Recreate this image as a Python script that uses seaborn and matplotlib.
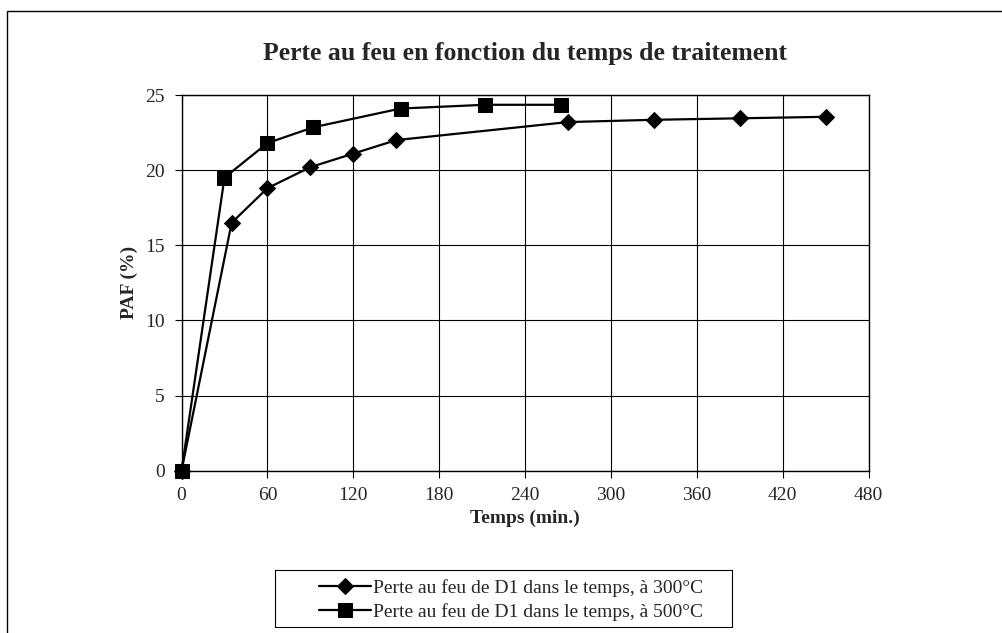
import matplotlib
matplotlib.use("Agg")
import matplotlib.pyplot as plt
import seaborn as sns
import pandas as pd
from matplotlib.patches import Rectangle

# Data
t_300 = [0, 35, 60, 90, 120, 150, 270, 330, 390, 450]
paf_300 = [0, 16.5, 18.8, 20.2, 21.1, 22.0, 23.2, 23.35, 23.45, 23.55]
t_500 = [0, 30, 60, 92, 153, 212, 265]
paf_500 = [0, 19.5, 21.8, 22.85, 24.1, 24.35, 24.35]
label_300 = "Perte au feu de D1 dans le temps, à 300°C"
label_500 = "Perte au feu de D1 dans le temps, à 500°C"
title = "Perte au feu en fonction du temps de traitement"
xlabel = "Temps (min.)"
ylabel = "PAF (%)"
xticks = [0, 60, 120, 180, 240, 300, 360, 420, 480]
yticks = [0, 5, 10, 15, 20, 25]

sns.set_style("white")
plt.rcParams['font.family'] = ['Liberation Serif', 'DejaVu Serif']

fig = plt.figure(figsize=(10.03, 6.33), dpi=100)
ax = fig.add_axes([0.181, 0.2564, 0.685, 0.5935])

df300 = pd.DataFrame({"t": t_300, "paf": paf_300})
df500 = pd.DataFrame({"t": t_500, "paf": paf_500})

sns.lineplot(data=df300, x="t", y="paf", ax=ax, color="black", marker="D",
             markersize=8, linewidth=1.6, label=label_300, sort=False,
             markeredgecolor="black", clip_on=False, zorder=3)
sns.lineplot(data=df500, x="t", y="paf", ax=ax, color="black", marker="s",
             markersize=10.5, linewidth=1.6, label=label_500, sort=False,
             markeredgecolor="black", clip_on=False, zorder=3)

ax.set_xlim(0, 480)
ax.set_ylim(0, 25)
ax.set_xticks(xticks)
ax.set_yticks(yticks)
ax.grid(True, color="black", linewidth=0.8)
for s in ax.spines.values():
    s.set_color("black")
    s.set_linewidth(1.0)
ax.tick_params(axis="both", which="both", direction="out", length=5, width=0.8,
               color="black", labelsize=14, pad=7, left=True, bottom=True)

ax.set_title(title, fontsize=18.5, fontweight="bold", pad=25)
ax.set_xlabel(xlabel, fontsize=14, fontweight="bold", labelpad=4)
ax.set_ylabel(ylabel, fontsize=14, fontweight="bold", labelpad=5)

ax.get_legend().remove()
handles, labels = ax.get_legend_handles_labels()
leg = fig.legend(handles, labels, loc="center", bbox_to_anchor=(511 / 1003, 1 - 600 / 633),
                 fontsize=14, frameon=False,
                 handlelength=2.7, handletextpad=0.1, labelspacing=0.35,
                 borderpad=0.0)

# legend frame
fig.patches.append(Rectangle((275 / 1003, 1 - 627 / 633), (732 - 275) / 1003, (627 - 570) / 633,
                             transform=fig.transFigure, fill=False,
                             edgecolor="black", linewidth=0.8))

# outer chart border
fig.patches.append(Rectangle((7 / 1003, -0.1), 1.1, (1 - 11 / 633) + 0.1,
                             transform=fig.transFigure, fill=False,
                             edgecolor="black", linewidth=1.0))

fig.savefig("out.png", dpi=100)
